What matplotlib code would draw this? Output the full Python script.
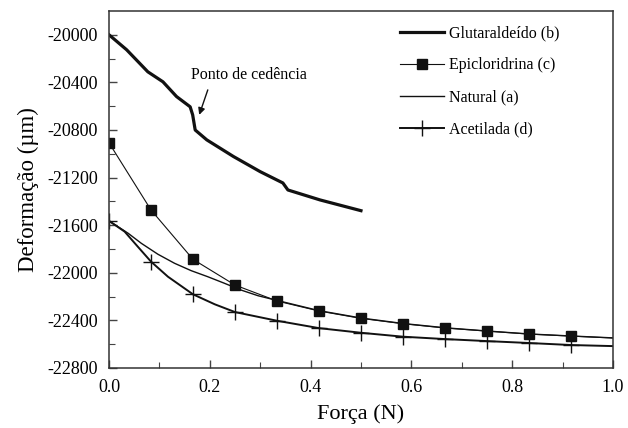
import numpy as np
import matplotlib
matplotlib.use("Agg")
import matplotlib.pyplot as plt

plt.rcParams["font.family"] = ["Liberation Serif", "DejaVu Serif"]
plt.rcParams["axes.unicode_minus"] = False

# Glutaraldeido (b)
glut_x = [0.0, 0.035, 0.077, 0.107, 0.134, 0.161, 0.166, 0.171, 0.194,
          0.247, 0.300, 0.345, 0.355, 0.419, 0.5]
glut_y = [-20000, -20126, -20311, -20395, -20519, -20605, -20673, -20800,
          -20883, -21023, -21150, -21245, -21304, -21388, -21478]

# Epicloridrina (c) - markers at the measured points, line goes on to 1.0
epi_x = [0.0, 0.0833, 0.1667, 0.25, 0.3333, 0.4167, 0.5, 0.5833, 0.6667,
         0.75, 0.8333, 0.9167, 1.0]
epi_y = [-20908, -21472, -21887, -22103, -22237, -22321, -22383, -22428,
         -22464, -22490, -22515, -22532, -22548]

# Natural (a)
nat_x = [0.0, 0.038, 0.064, 0.097, 0.130, 0.163, 0.196, 0.229, 0.262,
         0.296, 0.3333, 0.4167, 0.5, 0.5833, 0.6667, 0.75, 0.8333, 0.9167,
         1.0]
nat_y = [-21564, -21668, -21752, -21844, -21920, -21982, -22033, -22088,
         -22145, -22193, -22232, -22318, -22380, -22426, -22462, -22489,
         -22514, -22531, -22547]

# Acetilada (d)
ace_x = [0.0, 0.031, 0.057, 0.0833, 0.117, 0.1667, 0.210, 0.25, 0.3333,
         0.4167, 0.5, 0.5833, 0.6667, 0.75, 0.8333, 0.9167, 1.0]
ace_y = [-21564, -21654, -21780, -21906, -22033, -22181, -22265, -22330,
         -22403, -22465, -22504, -22537, -22557, -22574, -22590, -22607,
         -22616]
ace_marks = [0, 3, 5, 7, 8, 9, 10, 11, 12, 13, 14, 15]

fig = plt.figure(figsize=(6.28, 4.28), dpi=100)
ax = fig.add_axes([0.1736, 0.1402, 0.8024, 0.8341])

ink = "#111111"
ax.plot(glut_x, glut_y, color=ink, lw=2.3, label="Glutaraldeído (b)")
ax.plot(epi_x, epi_y, color=ink, lw=0.8, marker="s", ms=7,
        markevery=list(range(12)), label="Epicloridrina (c)")
ax.plot(nat_x, nat_y, color=ink, lw=1.0, label="Natural (a)")
ax.plot(ace_x, ace_y, color=ink, lw=1.4, marker="+", ms=11, mew=1.0,
        markevery=ace_marks, label="Acetilada (d)")

ax.text(0.162, -20340, "Ponto de cedência", fontsize=11.5,
        ha="left", va="center")
ax.annotate("", xy=(0.179, -20673), xytext=(0.196, -20463),
            arrowprops=dict(arrowstyle="-|>", color=ink, lw=1.0,
                            mutation_scale=10, shrinkA=0, shrinkB=0))

ax.set_xlim(0.0, 1.0)
ax.set_ylim(-22800, -19800)
ax.set_xticks(np.arange(0, 1.01, 0.2))
ax.set_xticks(np.arange(0.1, 1.0, 0.2), minor=True)
ax.set_yticks(np.arange(-22800, -19999, 400))
ax.set_yticks(np.arange(-22600, -19800, 400), minor=True)
ax.xaxis.set_major_formatter(plt.FormatStrFormatter("%.1f"))

ax.tick_params(which="both", direction="in", top=False, right=False,
               labelsize=13, color="#444444")
ax.tick_params(which="major", length=6, width=1.0, pad=8)
ax.tick_params(which="minor", length=4, width=0.8)
for sp in ax.spines.values():
    sp.set_linewidth(1.1)
    sp.set_color("#333333")

ax.set_xlabel("Força (N)", fontsize=16, labelpad=6)
ax.set_ylabel("Deformação (µm)", fontsize=16.5, labelpad=6)

leg = ax.legend(loc="upper left", bbox_to_anchor=(0.577, 0.96), frameon=False,
                fontsize=11.5, handlelength=2.8, handletextpad=0.3,
                labelspacing=1.0, borderpad=0, borderaxespad=0)

fig.savefig("out.png", dpi=100)
